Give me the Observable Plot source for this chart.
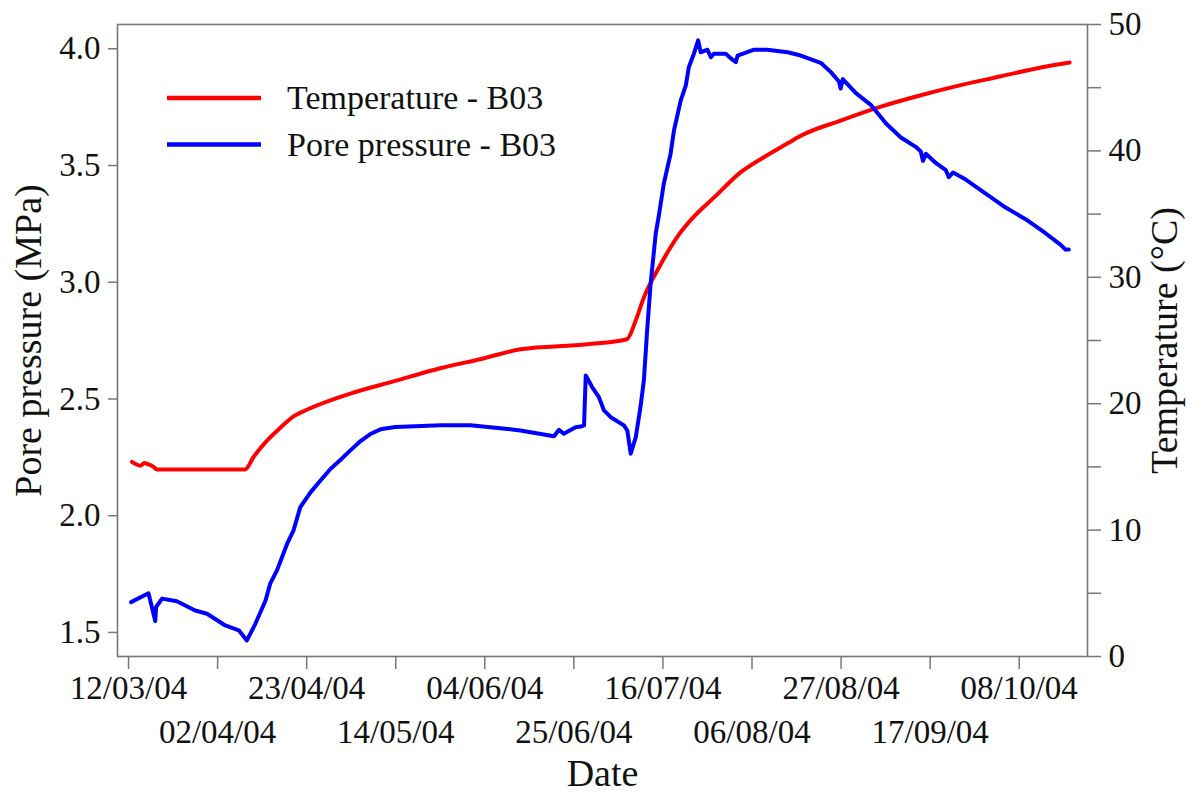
<!DOCTYPE html>
<html>
<head>
<meta charset="utf-8">
<script src="https://cdn.jsdelivr.net/npm/d3@7"></script>
<script src="https://cdn.jsdelivr.net/npm/@observablehq/plot@0.6"></script>
<style>
  html, body { margin: 0; padding: 0; background: #fff; }
  #chart { width: 1194px; height: 796px; }
</style>
</head>
<body>
<div id="chart"></div>
<script>
// ---- data (days elapsed since 12/03/2004) ----
const startDay = "2004-03-12";

const tempDays = [0.8, 2.8, 3.7, 4.7, 5.9, 6.7, 27.5, 29.5, 32.7, 35.8, 38.9, 41.9, 52.3, 62.9, 73.5, 83.9, 92.4, 108.2, 117.5, 119.6, 121.5, 125.1, 129.8, 133.3, 138.0, 144.3, 149.8, 155.4, 158.5, 167.9, 177.4, 186.8, 196.2, 205.7, 215.1, 221.9];
const tempValues = [15.4, 15.1, 15.3, 15.2, 15.0, 14.8, 14.8, 15.8, 17.1, 18.1, 19.0, 19.5, 20.8, 21.8, 22.8, 23.6, 24.3, 24.7, 25.1, 26.6, 28.4, 30.8, 33.4, 34.8, 36.3, 38.3, 39.5, 40.6, 41.2, 42.4, 43.5, 44.4, 45.2, 45.9, 46.6, 47.0];

const poreDays = [0.6, 4.7, 6.3, 6.5, 7.9, 11.4, 15.7, 18.5, 22.8, 26.0, 27.9, 29.9, 32.3, 33.4, 35.0, 37.4, 38.9, 40.5, 42.9, 45.2, 47.6, 50.0, 52.3, 54.7, 57.0, 59.4, 62.9, 73.6, 80.6, 87.7, 92.4, 100.3, 101.5, 102.6, 105.4, 106.6, 107.4, 107.8, 109.3, 110.9, 112.1, 113.7, 116.8, 117.6, 118.4, 119.6, 120.7, 121.5, 122.3, 123.1, 124.3, 125.1, 126.2, 127.8, 128.6, 130.2, 131.4, 132.1, 133.3, 134.3, 134.9, 136.5, 137.3, 138.0, 140.8, 142.4, 143.2, 143.6, 147.5, 150.6, 155.4, 158.5, 163.2, 165.6, 167.5, 167.9, 168.4, 171.5, 175.0, 178.6, 182.1, 185.6, 186.8, 187.3, 188.0, 190.4, 192.7, 193.4, 194.4, 197.4, 202.1, 206.8, 211.5, 216.2, 219.8, 220.9, 221.7];
const poreValues = [1.630, 1.668, 1.549, 1.609, 1.645, 1.634, 1.594, 1.580, 1.530, 1.509, 1.466, 1.537, 1.637, 1.709, 1.766, 1.880, 1.937, 2.037, 2.10, 2.15, 2.20, 2.24, 2.28, 2.32, 2.35, 2.37, 2.38, 2.387, 2.387, 2.375, 2.365, 2.340, 2.368, 2.351, 2.379, 2.382, 2.387, 2.601, 2.551, 2.508, 2.451, 2.422, 2.387, 2.365, 2.266, 2.337, 2.465, 2.579, 2.80, 2.994, 3.208, 3.293, 3.422, 3.550, 3.650, 3.779, 3.843, 3.921, 3.979, 4.036, 3.985, 3.996, 3.964, 3.979, 3.979, 3.953, 3.943, 3.971, 3.996, 3.996, 3.985, 3.971, 3.94, 3.90, 3.86, 3.83, 3.87, 3.81, 3.76, 3.68, 3.62, 3.58, 3.56, 3.52, 3.55, 3.51, 3.48, 3.45, 3.47, 3.44, 3.38, 3.32, 3.27, 3.21, 3.16, 3.14, 3.14];

const dateTicks = ["2004-03-12", "2004-04-02", "2004-04-23", "2004-05-14", "2004-06-04", "2004-06-25", "2004-07-16", "2004-08-06", "2004-08-27", "2004-09-17", "2004-10-08"];
const poreTicks = [1.5, 2.0, 2.5, 3.0, 3.5, 4.0];
const tempTicks = [0, 5, 10, 15, 20, 25, 30, 35, 40, 45, 50];
const xDomain = ["2004-03-09T09:30:00Z", "2004-10-24T02:30:00Z"];
const poreDomain = [1.397, 4.104];
const tempDomain = [0, 50];
const seriesNames = ["Temperature - B03", "Pore pressure - B03"];
const seriesColors = ["#ff0000", "#0000ff"];

// ---- build tables ----
const t0 = Date.parse(startDay + "T00:00:00Z");
const toDate = d => new Date(t0 + d * 86400000);
const toPore = d3.scaleLinear(tempDomain, poreDomain); // right-axis mapping
const tempData = tempDays.map((d, i) => ({date: toDate(d), value: tempValues[i]}));
const poreData = poreDays.map((d, i) => ({date: toDate(d), value: poreValues[i]}));
const ticks = dateTicks.map(s => new Date(s + "T00:00:00Z"));
const ticksRow1 = ticks.filter((d, i) => i % 2 === 0);
const ticksRow2 = ticks.filter((d, i) => i % 2 === 1);
const fmt = d3.utcFormat("%d/%m/%y");

const FONT = "'Liberation Serif', 'Times New Roman', serif";
const GRAY = "#777";

const chart = Plot.plot({
  width: 1194,
  height: 796,
  marginLeft: 117,
  marginRight: 107,
  marginTop: 24,
  marginBottom: 140,
  style: {fontFamily: FONT, fontSize: "33px", color: "#111", background: "#fff", overflow: "visible"},
  x: {type: "utc", domain: xDomain.map(s => new Date(s))},
  y: {domain: poreDomain},
  marks: [
    Plot.frame({stroke: GRAY, strokeWidth: 1.6}),
    Plot.axisX(ticksRow1, {tickSize: 13, tickPadding: 6, tickFormat: fmt, stroke: GRAY, strokeWidth: 1.5, fill: "#111", label: null}),
    Plot.axisX(ticksRow2, {tickSize: 13, tickPadding: 50, tickFormat: fmt, stroke: GRAY, strokeWidth: 1.5, fill: "#111", label: null}),
    Plot.axisY(poreTicks, {anchor: "left", tickSize: 9, tickPadding: 8, tickFormat: d3.format(".1f"), stroke: GRAY, strokeWidth: 1.5, fill: "#111", label: null}),
    Plot.axisY(tempTicks.map(t => toPore(t)), {anchor: "right", tickSize: 13, tickPadding: 8, stroke: GRAY, strokeWidth: 1.5, fill: "#111", label: null,
      tickFormat: v => { const t = Math.round(toPore.invert(v)); return t % 10 === 0 ? String(t) : ""; }}),
    Plot.text(["Date"], {frameAnchor: "bottom", dy: 117, fontSize: 38, lineAnchor: "middle", textAnchor: "middle", fill: "#111"}),
    Plot.text(["Pore pressure (MPa)"], {frameAnchor: "left", dx: -89, rotate: -90, fontSize: 38, textAnchor: "middle", lineAnchor: "middle", fill: "#111"}),
    Plot.text(["Temperature (°C)"], {frameAnchor: "right", dx: 77, rotate: -90, fontSize: 38, textAnchor: "middle", lineAnchor: "middle", fill: "#111"}),
    Plot.line(tempData, {x: "date", y: d => toPore(d.value), curve: "monotone-x", stroke: seriesColors[0], strokeWidth: 4, strokeLinejoin: "round", strokeLinecap: "round"}),
    Plot.line(poreData, {x: "date", y: "value", stroke: seriesColors[1], strokeWidth: 4, strokeLinejoin: "round", strokeLinecap: "round"})
  ]
});

// ---- legend (inside the plot area, top-left) ----
const svg = d3.select(chart);
const lg = svg.append("g").attr("font-family", FONT).attr("font-size", 34).attr("fill", "#111").attr("text-anchor", "start");
seriesNames.forEach((name, i) => {
  const y = 98 + i * 46.5;
  lg.append("line").attr("x1", 167).attr("x2", 261).attr("y1", y).attr("y2", y)
    .attr("stroke", seriesColors[i]).attr("stroke-width", 4.5);
  lg.append("text").attr("x", 287).attr("y", y).attr("dy", "0.33em").attr("text-anchor", "start").text(name);
});

document.getElementById("chart").appendChild(chart);
</script>
</body>
</html>
